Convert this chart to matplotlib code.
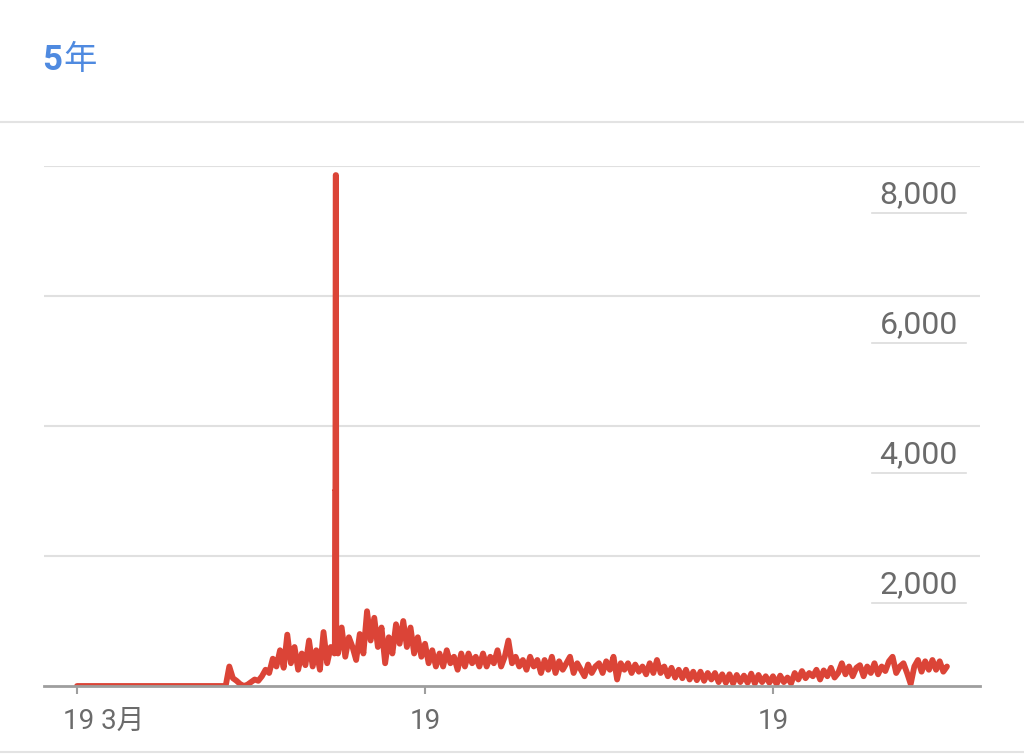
import numpy as np
import matplotlib
matplotlib.use("Agg")
import matplotlib.pyplot as plt
from matplotlib.lines import Line2D
from matplotlib.transforms import ScaledTranslation

plt.rcParams['font.family'] = ['Roboto', 'Noto Sans CJK JP', 'DejaVu Sans']

# months since start, sampled every quarter month
zeros_head = [0] * 40  # months 0 .. 9.75 flat
values = zeros_head + [
    0, 0, 300, 120,        # m10
    80, 30, 0, 20,         # m11
    60, 100, 80, 150,      # m12
    250, 200, 420, 300,    # m13
    550, 280, 790, 350,    # m14
    600, 250, 500, 320,    # m15
    700, 300, 550, 250,    # m16
    830, 350, 600, 500,    # m17
    500, 900, 450, 750,    # m18
    600, 400, 800, 500,    # m19
    1150, 700, 1050, 600,  # m20
    900, 350, 750, 500,    # m21
    950, 650, 1000, 600,   # m22
    900, 500, 750, 450,    # m23
    650, 350, 550, 300,    # m24
    500, 300, 550, 350,    # m25
    450, 250, 500, 300,    # m26
    500, 350, 450, 300,    # m27
    500, 300, 450, 350,    # m28
    550, 300, 450, 700,    # m29
    350, 450, 300, 400,    # m30
    250, 450, 300, 400,    # m31
    200, 400, 250, 450,    # m32
    200, 380, 250, 350,    # m33
    450, 200, 350, 250,    # m34
    150, 330, 200, 300,    # m35
    350, 200, 380, 250,    # m36
    450, 100, 350, 250,    # m37
    350, 200, 330, 220,    # m38
    300, 180, 350, 200,    # m39
    400, 200, 300, 150,    # m40
    280, 130, 250, 120,    # m41
    250, 100, 220, 90,     # m42
    220, 80, 200, 100,     # m43
    200, 60, 180, 50,      # m44
    180, 40, 170, 60,      # m45
    160, 50, 190, 40,      # m46
    170, 60, 150, 50,      # m47
    150, 30, 160, 60,      # m48
    130, 40, 200, 100,     # m49
    230, 120, 200, 150,    # m50
    250, 100, 240, 150,    # m51
    280, 130, 200, 350,    # m52
    180, 300, 150, 280,    # m53
    320, 150, 300, 200,    # m54
    350, 180, 300, 230,    # m55
    380, 450, 200, 300,    # m56
    350, 200, 30, 300,     # m57
    400, 220, 380, 250,    # m58
    400, 250, 380, 220,    # m59
    300,                   # m60
]
months = list(np.arange(len(values)) * 0.25)

# the one-day spike, finer than the weekly grid
spike_months = [17.78, 17.80, 17.82, 17.84, 17.86, 17.88]
spike_values = [600, 3000, 3000, 7860, 7860, 700]

pts = sorted(zip(months + spike_months, values + spike_values))
x_all = [p[0] for p in pts]
y_all = [p[1] for p in pts]

xtick_pos = [0, 24, 48]
xtick_labels = ["19 3月", "19", "19"]
ytick_pos = [2000, 4000, 6000, 8000]
ytick_labels = ["2,000", "4,000", "6,000", "8,000"]

W, H = 1024, 756
fig = plt.figure(figsize=(W / 100, H / 100), dpi=100)
fig.patch.set_facecolor('white')

# header
fig.text(42 / W, 1 - 60 / H, "5", color='#4f8ae0', fontsize=25, fontweight='bold',
         va='center', ha='left', family=['Roboto'])
fig.text(63 / W, 1 - 60 / H, "年", color='#4f8ae0', fontsize=24,
         va='center', ha='left', family=['Noto Sans CJK JP'])
fig.add_artist(Line2D([0, 1], [1 - 122 / H, 1 - 122 / H], color='#e3e3e3', lw=1.5))
fig.add_artist(Line2D([0, 1], [1 - 752 / H, 1 - 752 / H], color='#e3e3e3', lw=1.5))

ax = fig.add_axes([44 / W, (H - 686) / H, 936 / W, 520 / H])
ax.set_xlim(-2.28, 62.28)
ax.set_ylim(0, 8000)

for yv in ytick_pos:
    ax.axhline(yv, color='#e0e0e0', lw=1.5, zorder=0)

ax.plot(x_all, y_all, color='#db4437', lw=4.2, solid_joinstyle='round',
        solid_capstyle='round', zorder=3)

for s in ['top', 'right', 'left']:
    ax.spines[s].set_visible(False)
ax.spines['bottom'].set_color('#9e9e9e')
ax.spines['bottom'].set_linewidth(2)
ax.spines['bottom'].set_zorder(4)

ax.set_yticks([])
ax.set_xticks(xtick_pos)
ax.set_xticklabels(xtick_labels)
ax.tick_params(axis='x', length=6, width=1.5, color='#9e9e9e', pad=10,
               labelsize=20, labelcolor='#6b6b6b')
off = ScaledTranslation(0.27, 0, fig.dpi_scale_trans)
first = ax.get_xticklabels()[0]
first.set_transform(first.get_transform() + off)

# right-side value labels with underline
for yv, lab in zip(ytick_pos, ytick_labels):
    ypix = 686 - yv * 0.065
    fig.text(958 / W, 1 - (ypix + 29) / H, lab, color='#6b6b6b', fontsize=23,
             ha='right', va='center')
    fig.add_artist(Line2D([872 / W, 966 / W], [1 - (ypix + 47) / H] * 2,
                          color='#dcdcdc', lw=1.2))

fig.savefig('out.png', dpi=100, facecolor='white')
